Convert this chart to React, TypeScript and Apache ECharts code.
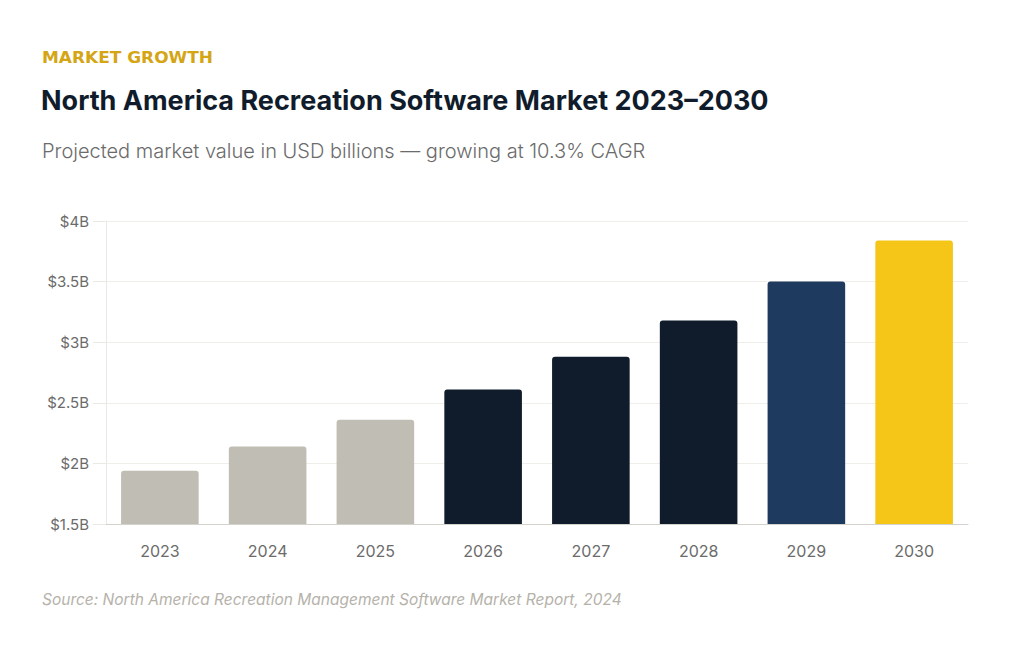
import React, { useEffect, useRef } from "react";
import * as echarts from "echarts";

// Market value by year, USD billions
const years = ["2023", "2024", "2025", "2026", "2027", "2028", "2029", "2030"];
const values = [1.94, 2.14, 2.36, 2.61, 2.88, 3.18, 3.5, 3.84];
const barColors = [
  "#c0bdb4",
  "#c0bdb4",
  "#c0bdb4",
  "#101c2b",
  "#101c2b",
  "#101c2b",
  "#1f3a5f",
  "#f5c518",
];
const yTicks = { min: 1.5, max: 4, interval: 0.5 };

const FONT = "Inter, 'Open Sans', sans-serif";

export default function App() {
  const ref = useRef<HTMLDivElement>(null);

  useEffect(() => {
    if (!ref.current) return;
    const chart = echarts.init(ref.current, undefined, { renderer: "svg" });
    chart.setOption({
      animation: false,
      backgroundColor: "#ffffff",
      textStyle: { fontFamily: FONT },
      graphic: [
        {
          type: "text",
          x: 42,
          y: 50,
          scaleX: 1.13,
          style: {
            text: "MARKET GROWTH",
            fill: "#d4a514",
            font: `700 15px 'DejaVu Sans', sans-serif`,
          },
        },
        {
          type: "text",
          left: 41,
          top: 87,
          style: {
            text: "North America Recreation Software Market 2023–2030",
            fill: "#101c2b",
            font: `700 27px ${FONT}`,
          },
        },
        {
          type: "text",
          left: 42,
          top: 141,
          style: {
            text: "Projected market value in USD billions — growing at 10.3% CAGR",
            fill: "#6b6b6b",
            font: `300 20px ${FONT}`,
          },
        },
        {
          type: "text",
          left: 42,
          top: 591,
          style: {
            text: "Source: North America Recreation Management Software Market Report, 2024",
            fill: "#b5b2aa",
            font: `italic 400 15.5px ${FONT}`,
          },
        },
      ],
      grid: { left: 106, right: 42, top: 221, bottom: 128, containLabel: false },
      xAxis: {
        type: "category",
        data: years,
        axisLine: { lineStyle: { color: "#d4d2cc", width: 1 } },
        axisTick: { show: false },
        axisLabel: { color: "#6b6b6b", fontSize: 16, margin: 19, fontFamily: FONT },
      },
      yAxis: {
        type: "value",
        min: yTicks.min,
        max: yTicks.max,
        interval: yTicks.interval,
        axisLine: { show: true, lineStyle: { color: "#ebe9e4", width: 1 } },
        axisTick: { show: true, length: 13, lineStyle: { color: "#ebe9e4" } },
        axisLabel: {
          color: "#6b6b6b",
          fontSize: 15,
          margin: 17,
          fontFamily: FONT,
          formatter: (v: number) => `$${v}B`,
        },
        splitLine: { lineStyle: { color: "#efeee9", width: 1 } },
      },
      series: [
        {
          type: "bar",
          data: values.map((v, i) => ({
            value: v,
            itemStyle: { color: barColors[i], borderRadius: [3, 3, 0, 0] },
          })),
          barCategoryGap: "28%",
        },
      ],
    });
    return () => chart.dispose();
  }, []);

  return (
    <div
      ref={ref}
      style={{ position: "fixed", left: 0, top: 0, width: 1010, height: 652 }}
    />
  );
}
